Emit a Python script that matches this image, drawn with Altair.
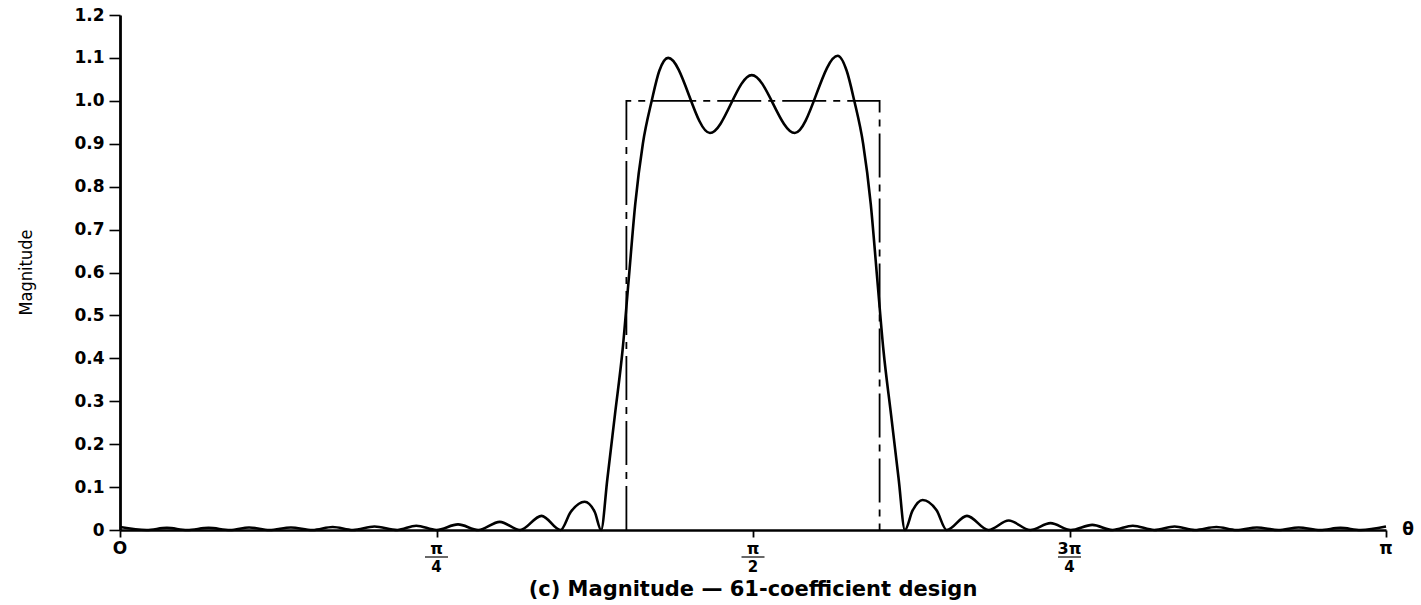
import altair as alt
import pandas as pd

# Frequency in units of pi (theta / pi) and magnitude of the designed response
theta_resp = [
    0.000, 0.021, 0.037, 0.053, 0.070, 0.087, 0.102, 0.118, 0.135, 0.152,
    0.168, 0.184, 0.201, 0.219, 0.234, 0.250, 0.267, 0.283, 0.300, 0.316,
    0.333, 0.348, 0.356, 0.367, 0.375, 0.380,
    0.385, 0.391, 0.397, 0.402, 0.407, 0.413, 0.420, 0.426, 0.433,
    0.466, 0.499, 0.533,
    0.567, 0.574, 0.580, 0.587, 0.593, 0.598, 0.603, 0.609, 0.615, 0.620,
    0.626, 0.634, 0.645, 0.653, 0.669, 0.686, 0.702, 0.719, 0.735, 0.751,
    0.768, 0.784, 0.800, 0.817, 0.833, 0.849, 0.866, 0.882, 0.898, 0.915,
    0.931, 0.948, 0.964, 0.980, 1.000,
]
mag_resp = [
    0.007, 0.000, 0.005, 0.000, 0.005, 0.000, 0.006, 0.000, 0.006, 0.000,
    0.007, 0.000, 0.008, 0.000, 0.010, 0.000, 0.013, 0.000, 0.019, 0.000,
    0.033, 0.000, 0.042, 0.066, 0.042, 0.000,
    0.12, 0.27, 0.42, 0.59, 0.76, 0.90, 1.00, 1.07, 1.10,
    0.925, 1.060, 0.925,
    1.105, 1.07, 1.00, 0.90, 0.76, 0.59, 0.42, 0.27, 0.12, 0.000,
    0.045, 0.070, 0.046, 0.000, 0.033, 0.000, 0.022, 0.000, 0.016, 0.000,
    0.012, 0.000, 0.010, 0.000, 0.008, 0.000, 0.007, 0.000, 0.006, 0.000,
    0.006, 0.000, 0.005, 0.000, 0.008,
]

# Ideal band-pass specification
theta_ideal = [0.4, 0.4, 0.6, 0.6]
mag_ideal = [0.0, 1.0, 1.0, 0.0]

# Axis ticks
y_ticks = [0.0, 0.1, 0.2, 0.3, 0.4, 0.5, 0.6, 0.7, 0.8, 0.9, 1.0, 1.1, 1.2]
x_ticks = [0.0, 0.25, 0.5, 0.75, 1.0]
frac_pos = [0.25, 0.5, 0.75]
frac_num = ["π", "π", "3π"]
frac_den = ["4", "2", "4"]
end_pos = [0.0, 1.0]
end_lab = ["O", "π"]

W, H = 1266, 515
FONT = "DejaVu Sans"
NARROW = "DejaVu Sans Condensed, DejaVu Sans, sans-serif"

resp_df = pd.DataFrame({"theta": theta_resp, "mag": mag_resp})
ideal_df = pd.DataFrame({"theta": theta_ideal, "mag": mag_ideal,
                         "step": list(range(len(theta_ideal)))})
frac_df = pd.DataFrame({"theta": frac_pos, "num": frac_num, "den": frac_den})
end_df = pd.DataFrame({"theta": end_pos, "lab": end_lab})
theta_df = pd.DataFrame({"lab": ["θ"]})
cap_df = pd.DataFrame({"lab": ["(c) Magnitude — 61-coefficient design"]})

x_scale = alt.Scale(domain=[0, 1], nice=False, zero=False)
y_scale = alt.Scale(domain=[0, 1.2], nice=False)

x_axis = alt.Axis(values=x_ticks, labels=False, tickSize=7, tickWidth=1.8,
                  domainWidth=2.4, domainColor="black", tickColor="black",
                  grid=False, title="")
y_axis = alt.Axis(values=y_ticks,
                  labelExpr="datum.value == 0 ? '0' : format(datum.value, '.1f')",
                  tickSize=11, tickWidth=1.6, domainWidth=2.8,
                  domainColor="black", tickColor="black", grid=False,
                  labelFont=FONT, labelFontWeight="bold", labelFontSize=17,
                  labelColor="black", labelPadding=5,
                  title="Magnitude", titleFont=NARROW,
                  titleFontSize=18, titleFontWeight="normal", titleColor="black",
                  titleAngle=270, titleX=-94, titleY=257, titleAlign="center",
                  titleBaseline="middle")

X = alt.X("theta:Q", scale=x_scale, axis=x_axis)
Y = alt.Y("mag:Q", scale=y_scale, axis=y_axis)

response = alt.Chart(resp_df).mark_line(
    color="black", strokeWidth=2.6, interpolate="monotone"
).encode(x=X, y=Y)

ideal = alt.Chart(ideal_df).mark_line(
    color="black", strokeWidth=1.8, strokeDash=[44, 7, 7, 7]
).encode(x=X, y=Y, order="step:O")

numer = alt.Chart(frac_df).mark_text(
    font=FONT, fontWeight="bold", fontSize=16, baseline="middle", color="black"
).encode(x=X, y=alt.value(H + 19), text="num:N")

bars = alt.Chart(frac_df).mark_tick(
    orient="horizontal", size=23, thickness=1.7, color="black"
).encode(x=X, y=alt.value(H + 27))

denom = alt.Chart(frac_df).mark_text(
    font=FONT, fontWeight="bold", fontSize=15, baseline="middle", color="black"
).encode(x=X, y=alt.value(H + 37), text="den:N")

ends = alt.Chart(end_df).mark_text(
    font=FONT, fontWeight="bold", fontSize=17, baseline="middle", color="black"
).encode(x=X, y=alt.value(H + 19), text="lab:N")

theta_lab = alt.Chart(theta_df).mark_text(
    font=FONT, fontWeight="bold", fontSize=17, baseline="middle", dx=22,
    color="black"
).encode(x=alt.datum(1.0, scale=x_scale), y=alt.value(H), text="lab:N")

caption = alt.Chart(cap_df).mark_text(
    font=FONT, fontWeight="bold", fontSize=21, baseline="middle", color="black"
).encode(x=alt.datum(0.5, scale=x_scale), y=alt.value(H + 60), text="lab:N")

chart = alt.layer(
    response, ideal, numer, bars, denom, ends, theta_lab, caption
).properties(
    width=W, height=H,
    autosize=alt.AutoSizeParams(type="none"),
    padding={"left": 120, "top": 15, "right": 35, "bottom": 75},
    background="white",
).configure_view(strokeWidth=0)

chart.save("out.html", embed_options={"renderer": "svg", "actions": False})
